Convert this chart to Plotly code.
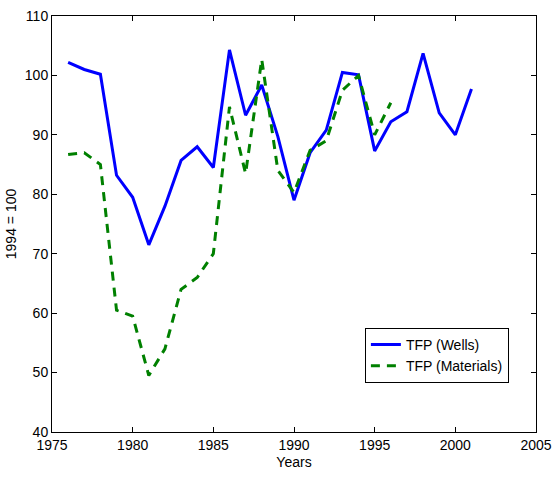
import plotly.graph_objects as go

years_wells = list(range(1976, 2002))
tfp_wells = [102.2, 101.0, 100.2, 83.2, 79.5, 71.5, 78.0, 85.7, 88.0, 84.5,
             104.3, 93.3, 98.4, 89.7, 79.0, 87.0, 90.8, 100.5, 100.1, 87.3,
             92.2, 93.9, 103.7, 93.7, 90.0, 97.7]

years_mat = list(range(1976, 1997))
tfp_mat = [86.7, 87.0, 85.0, 60.5, 59.5, 49.5, 54.0, 64.0, 66.0, 70.0,
           94.7, 83.5, 102.7, 84.0, 80.3, 87.4, 89.0, 97.5, 100.0, 90.0, 95.4]

x_ticks = [1975, 1980, 1985, 1990, 1995, 2000, 2005]
y_ticks = [40, 50, 60, 70, 80, 90, 100, 110]

fig = go.Figure()
fig.add_trace(go.Scatter(x=years_wells, y=tfp_wells, mode="lines", name="TFP (Wells)",
                         line=dict(color="#0000FF", width=3)))
fig.add_trace(go.Scatter(x=years_mat, y=tfp_mat, mode="lines", name="TFP (Materials)",
                         line=dict(color="#008000", width=3, dash="9px,7px")))

axis_common = dict(showline=True, linecolor="black", linewidth=1, mirror="ticks",
                   ticks="inside", ticklen=5, tickcolor="black", showgrid=False,
                   zeroline=False, automargin=False,
                   tickfont=dict(family="Liberation Sans, Arial", size=14, color="black"))

fig.update_layout(
    width=552, height=482,
    margin=dict(l=52, r=16, t=16, b=50),
    paper_bgcolor="white", plot_bgcolor="white",
    font=dict(family="Liberation Sans, Arial", size=14, color="black"),
    xaxis=dict(range=[1975, 2005], tickvals=x_ticks, ticktext=[str(v) for v in x_ticks],
               title=dict(text="Years", standoff=5, font=dict(size=14)), **axis_common),
    yaxis=dict(range=[40, 110], tickvals=y_ticks, ticktext=[str(v) for v in y_ticks],
               title=dict(text="1994 = 100", standoff=4, font=dict(size=14)), **axis_common),
    legend=dict(x=0.944, y=0.118, xanchor="right", yanchor="bottom",
                bordercolor="black", borderwidth=1, bgcolor="white",
                font=dict(size=14), tracegroupgap=0),
    showlegend=True,
)

fig.write_html("out.html")
